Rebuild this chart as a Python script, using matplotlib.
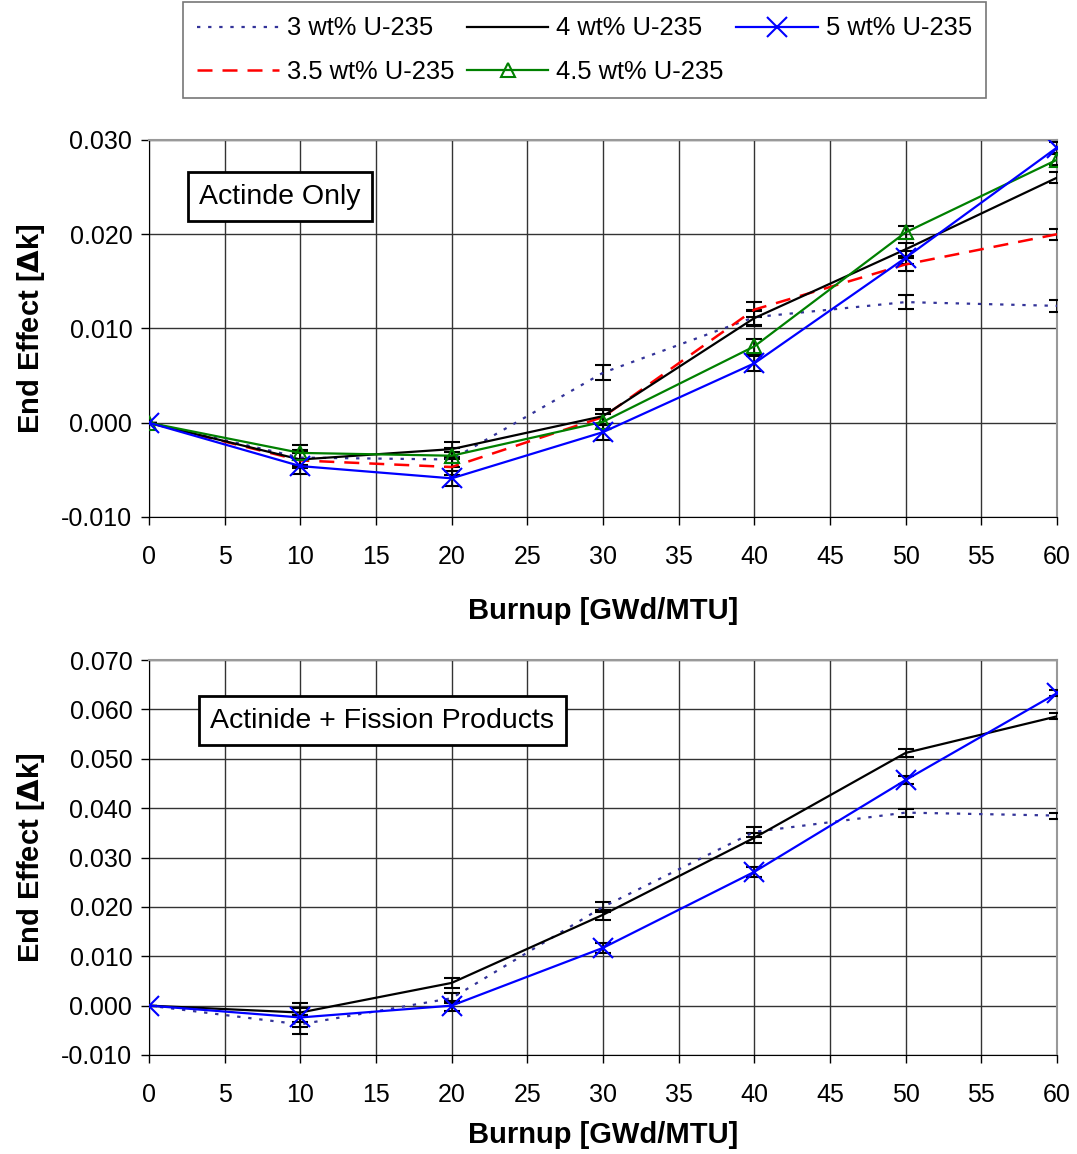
import matplotlib
matplotlib.use("Agg")
from matplotlib import pyplot as plt
import numpy as np

plt.rcParams['font.family'] = ['Liberation Sans', 'DejaVu Sans']

#%% data
burnup = [0, 10, 20, 30, 40, 50, 60]

# actinide only
act_3 = [0.0, -0.0037, -0.0039, 0.0053, 0.0112, 0.0128, 0.0124]
act_35 = [0.0, -0.0040, -0.0047, 0.0006, 0.0120, 0.0168, 0.0200]
act_4 = [0.0, -0.0039, -0.0028, 0.0007, 0.0111, 0.0184, 0.0260]
act_45 = [0.0, -0.0032, -0.0035, 0.0001, 0.0081, 0.0202, 0.0279]
act_5 = [0.0, -0.0046, -0.0059, -0.0010, 0.0063, 0.0175, 0.0292]
act_err = [0.0, 0.0008, 0.0008, 0.0008, 0.0008, 0.0007, 0.0006]

# actinide + fission products
fp_3 = [0.0, -0.0038, 0.0015, 0.0200, 0.0352, 0.0391, 0.0385]
fp_4 = [0.0, -0.0014, 0.0046, 0.0184, 0.0340, 0.0512, 0.0586]
fp_5 = [0.0, -0.0024, 0.0000, 0.0117, 0.0271, 0.0457, 0.0633]
fp_err = [0.0, 0.0020, 0.0010, 0.0010, 0.0010, 0.0008, 0.0006]

labels = ["3 wt% U-235", "3.5 wt% U-235", "4 wt% U-235", "4.5 wt% U-235", "5 wt% U-235"]

styles = {
    "3": dict(color="#333399", linestyle=(0, (1.5, 3.5)), lw=1.6),
    "3.5": dict(color="red", linestyle=(0, (6, 4)), lw=1.8),
    "4": dict(color="black", linestyle="-", lw=1.6),
    "4.5": dict(color="green", linestyle="-", lw=1.6, marker="^", ms=10,
                mfc="none", mew=1.5),
    "5": dict(color="blue", linestyle="-", lw=1.6, marker="x", ms=14, mew=1.5),
}

fig = plt.figure(figsize=(10.77, 11.54), dpi=100)
ax1 = fig.add_axes([0.1383, 0.552, 0.8431, 0.3267])
ax2 = fig.add_axes([0.1383, 0.0858, 0.8431, 0.3422])


def style_axes(ax, ylo, yhi, ystep, xpad):
    ax.set_xlim(0, 60)
    ax.set_ylim(ylo, yhi)
    ax.set_xticks(np.arange(0, 61, 5))
    ax.set_yticks(np.arange(ylo, yhi + ystep / 2, ystep))
    ax.yaxis.set_major_formatter(matplotlib.ticker.FormatStrFormatter('%.3f'))
    ax.grid(True, color="#333333", lw=1.0)
    ax.set_axisbelow(True)
    ax.tick_params(direction="out", length=6, width=1, labelsize=18)
    ax.tick_params(axis="x", pad=14)
    ax.tick_params(axis="y", pad=6)
    for s in ["top", "right"]:
        ax.spines[s].set_color("#999999")
        ax.spines[s].set_linewidth(1.5)
    for s in ["left", "bottom"]:
        ax.spines[s].set_color("black")
    ax.set_xlabel("Burnup [GWd/MTU]", fontsize=21, fontweight="bold", labelpad=xpad)
    ax.set_ylabel("End Effect [$\\mathbf{\\Delta}$k]", fontsize=21, fontweight="bold", labelpad=10)


def draw(ax, y, err, key, label):
    ax.errorbar(burnup, y, yerr=err, fmt="none", ecolor="black", elinewidth=1.2,
                capsize=5.5, capthick=1.5, zorder=3)
    return ax.plot(burnup, y, label=label, zorder=4, **styles[key])[0]

#%% top panel
handles = []
handles.append(draw(ax1, act_3, act_err, "3", labels[0]))
handles.append(draw(ax1, act_35, act_err, "3.5", labels[1]))
handles.append(draw(ax1, act_4, act_err, "4", labels[2]))
handles.append(draw(ax1, act_45, act_err, "4.5", labels[3]))
handles.append(draw(ax1, act_5, act_err, "5", labels[4]))
style_axes(ax1, -0.010, 0.030, 0.010, 20)
ax1.text(3.3, 0.0240, "Actinde Only", fontsize=20.5, va="center", ha="left",
         bbox=dict(boxstyle="square,pad=0.4", fc="white", ec="black", lw=2), zorder=6)

#%% bottom panel
draw(ax2, fp_3, fp_err, "3", labels[0])
draw(ax2, fp_4, fp_err, "4", labels[2])
draw(ax2, fp_5, fp_err, "5", labels[4])
style_axes(ax2, -0.010, 0.070, 0.010, 10)
ax2.text(4.05, 0.0577, "Actinide + Fission Products", fontsize=20.5, va="center", ha="left",
         bbox=dict(boxstyle="square,pad=0.4", fc="white", ec="black", lw=2), zorder=6)

#%% legend
leg = fig.legend(handles=handles, loc="upper center", bbox_to_anchor=(0.5427, 0.999),
                 ncol=3, fontsize=18.4, frameon=True, fancybox=False, handlelength=3.2,
                 columnspacing=0.5, handletextpad=0.3, labelspacing=0.75,
                 borderpad=0.55, borderaxespad=0.05, edgecolor="#555555")
leg.get_frame().set_linewidth(1.2)

fig.savefig("out.png", dpi=100)
